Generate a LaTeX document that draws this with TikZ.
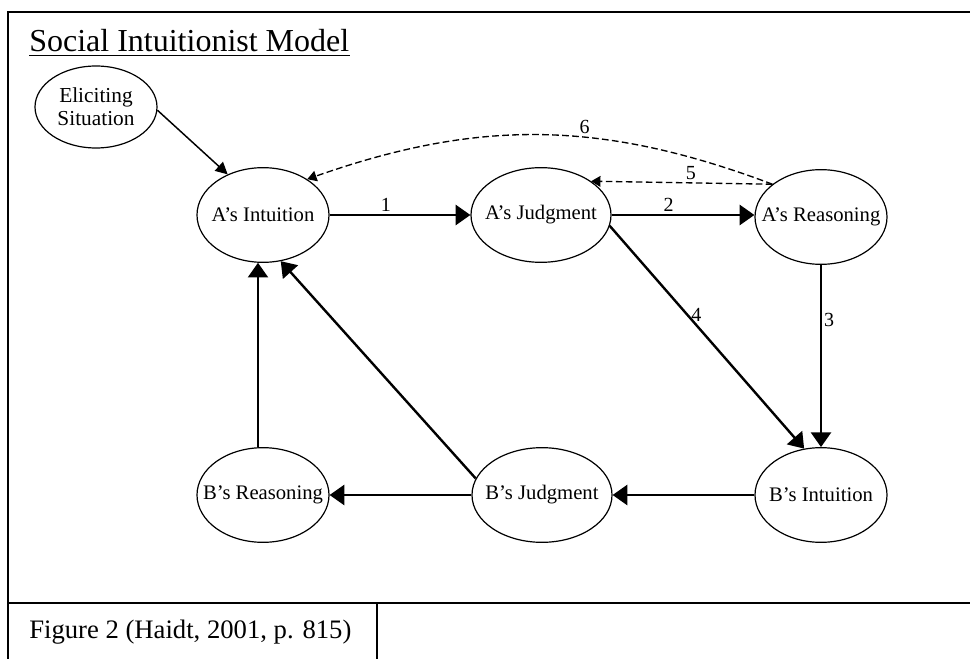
\documentclass[tikz,border=0pt]{standalone}
\usepackage{fontspec}
\setmainfont{Liberation Serif}
\usetikzlibrary{arrows.meta,shapes.geometric}
\begin{document}
\begin{tikzpicture}[x=0.75pt,y=-0.75pt,
  ell/.style={draw,ellipse,line width=0.9pt,inner sep=0pt,minimum width=99pt,minimum height=71pt},
  wide/.style={ell,minimum width=105pt},
  txt/.style={font=\fontsize{15.5}{17.5}\selectfont},
  link/.style={line width=1.8pt,-{Triangle[length=11pt,width=15pt]}},
  lead/.style={line width=1.1pt,-{Triangle[length=9pt,width=9pt]}},
  back/.style={line width=1pt,dash pattern=on 5pt off 2.5pt,-{Triangle[length=7pt,width=8pt]}},
  num/.style={font=\fontsize{15}{17}\selectfont,inner sep=2pt}]
\useasboundingbox (0,0) rectangle (970,659);
% frame and caption cell
\draw[line width=1.6pt] (970,12) -- (8,12) -- (8,659);
\draw[line width=1.6pt] (8,603) -- (970,603);
\draw[line width=1.2pt] (377,603) -- (377,659);
\node[anchor=base west,inner sep=0pt,font=\fontsize{24}{28}\selectfont] (title) at (29,52) {Social Intuitionist Model};
\draw[line width=1.2pt] ([yshift=-2.5pt]title.base west) -- ([yshift=-2.5pt]title.base east);
\node[anchor=base west,inner sep=0pt,font=\fontsize{20}{24}\selectfont] (caption) at (29,638) {Figure 2 (Haidt, 2001, p. 815)};
% person A
\node[ell,minimum width=91.5pt,minimum height=61.5pt,label={[font=\fontsize{16}{17.5}\selectfont,align=center]center:{Eliciting\\Situation}}] (elic) at (96,107) {};
\node[ell,label={[txt]center:A's Intuition}] (aint) at (263,215) {};
\node[wide,label={[txt]center:A's Judgment}] (ajud) at (541,215) {};
\node[ell,label={[txt]center:A's Reasoning}] (areas) at (821,217) {};
% person B
\node[ell,label={[txt]center:B's Reasoning}] (brea) at (263,495) {};
\node[wide,label={[txt]center:B's Judgment}] (bjud) at (542,495) {};
\node[ell,label={[txt]center:B's Intuition}] (bint) at (821,495) {};
% links
\draw[lead] (elic.-3) -- (aint.131);
\draw[link] (aint) -- node[num,above,pos=0.4] {1} (ajud);
\draw[link] (ajud.east) -- node[num,above,pos=0.4] {2} (ajud.east -| areas.west);
\draw[link] (areas) -- node[num,right,pos=0.3,inner sep=1.5pt] {3} (bint);
\draw[link] (ajud.-9) -- node[num,right,pos=0.4] {4} (bint.110);
\draw[link] (bint) -- (bjud);
\draw[link] (bjud) -- (brea);
\draw[link] (brea.96) -- (aint.264);
\draw[link] (bjud.166) -- (aint.-69);
\draw[back] (areas.146) -- node[num,above,pos=0.45] {5} (ajud.34);
\draw[back] (areas.146) to[bend right=20] node[num,above,pos=0.4] {6} (aint.39);
\end{tikzpicture}
\end{document}
